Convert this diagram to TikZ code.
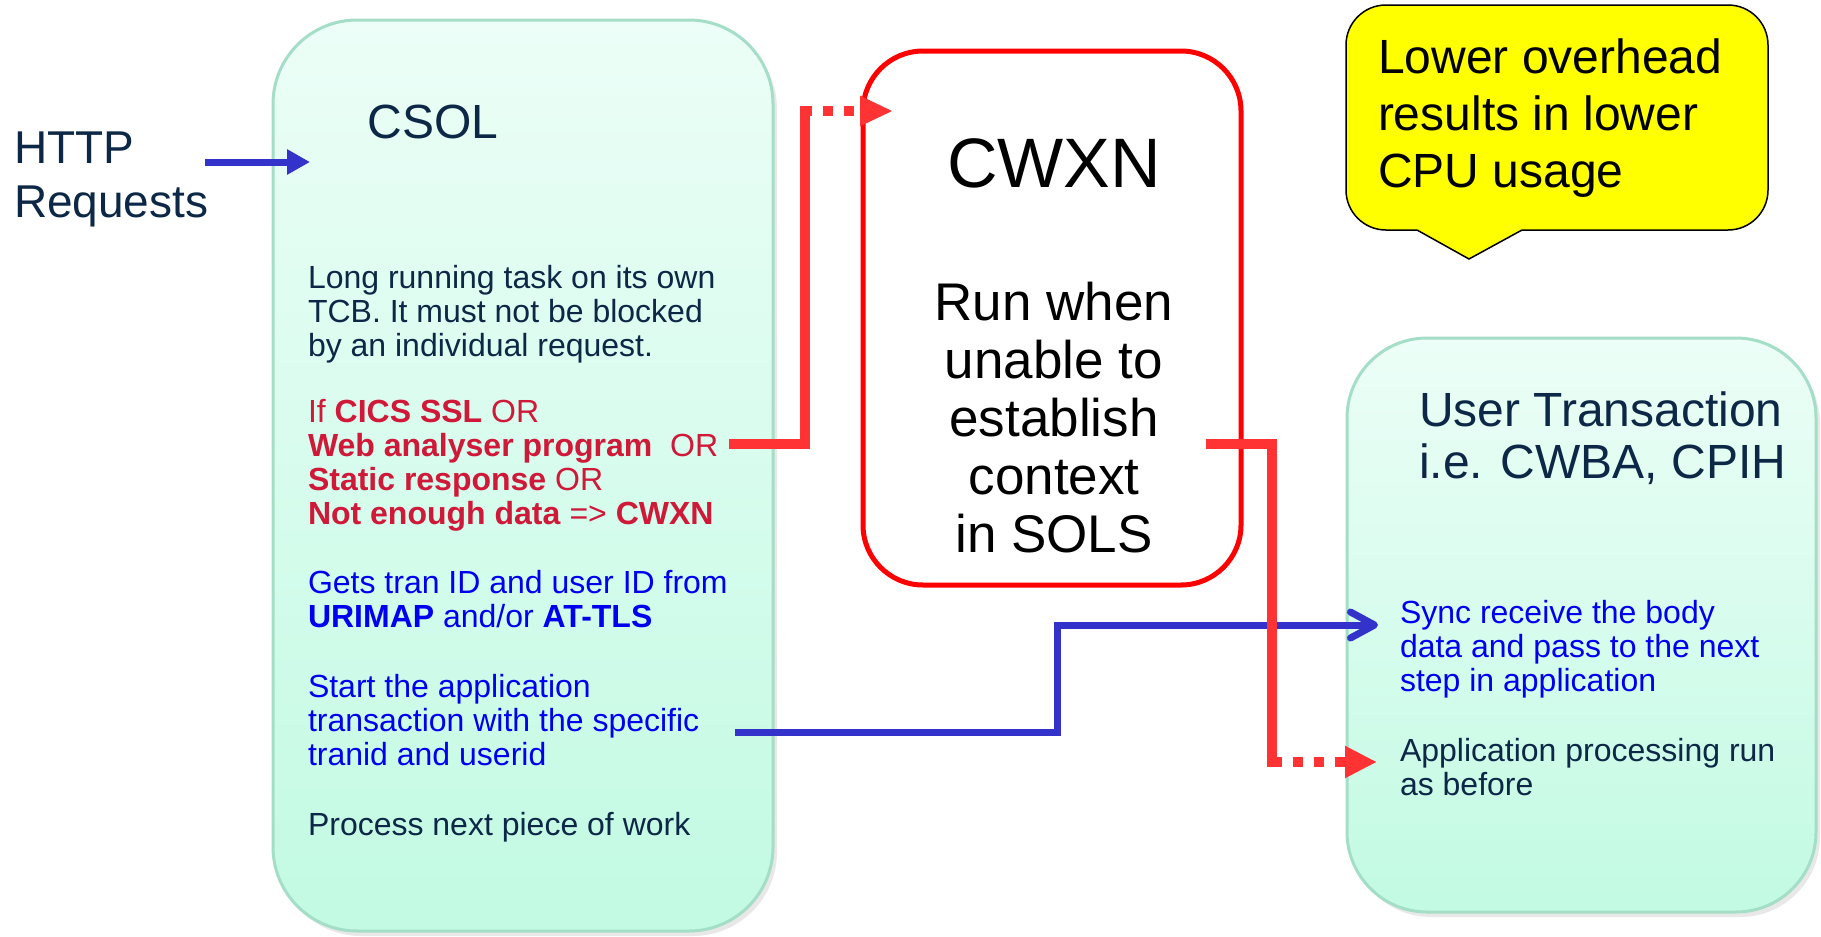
\documentclass[tikz,border=0pt]{standalone}
\usepackage{fontspec}
\setmainfont{Liberation Sans}
\usetikzlibrary{arrows.meta,shadows}
\definecolor{navy}{RGB}{12,40,70}
\definecolor{crim}{RGB}{208,24,56}
\definecolor{tblue}{RGB}{0,0,240}
\definecolor{abl}{RGB}{51,51,204}
\definecolor{redc}{RGB}{255,51,51}
\definecolor{pureyellow}{RGB}{255,255,0}
\definecolor{mintT}{RGB}{236,254,247}
\definecolor{mintB}{RGB}{194,250,227}
\definecolor{mintD}{RGB}{165,222,198}
\tikzset{
  greenbox/.style={draw=mintD, line width=1.5pt, top color=mintT, bottom color=mintB,
    rounded corners=42pt, inner sep=0pt, outer sep=0pt,
    drop shadow={opacity=0.18, shadow xshift=2pt, shadow yshift=-2.5pt}},
  txt/.style={inner sep=0pt, outer sep=0pt, align=left, anchor=base west},
  body/.style={txt, font=\fontsize{16pt}{17pt}\selectfont},
  redline/.style={draw=redc, line width=5pt, line join=miter},
  reddots/.style={redline, dash pattern=on 5.25pt off 5.25pt, dash phase=5.25pt},
  blueline/.style={draw=abl, line width=3.5pt, line join=miter},
}
\begin{document}
\begin{tikzpicture}[x=0.5pt,y=-0.5pt]
\useasboundingbox (0,0) rectangle (1821,937);
\fill[white] (0,0) rectangle (1821,937);

% boxes
\node[greenbox, minimum width=250pt, minimum height=455.5pt] (csol) at (523,475.5) {};
\node[greenbox, minimum width=234.5pt, minimum height=287pt, rounded corners=40pt] (ut) at (1581.5,625) {};
\node[draw=red, line width=2.5pt, fill=white, rounded corners=30pt, inner sep=0pt,
      minimum width=189pt, minimum height=267pt] (cwxn) at (1052,318) {};

% callout
\node[draw=black, line width=0.75pt, fill=pureyellow, rounded corners=20pt, inner sep=0pt,
      minimum width=211pt, minimum height=112.5pt] (call) at (1557,117.5) {};
\coordinate (pL) at (1417,230);
\coordinate (pT) at (1469,259);
\coordinate (pR) at (1522,230);
\fill[pureyellow] (1418,226) -- (pL) -- (pT) -- (pR) -- (1521,226) -- cycle;
\draw[black, line width=0.75pt, line join=miter] (pL) -- (pT) -- (pR);

% texts (anchor = baseline of the last line)
\node[txt, navy, font=\fontsize{23pt}{27pt}\selectfont] (http) at (14,217) {HTTP\\Requests};
\node[inner sep=0pt, anchor=base, navy, font=\fontsize{24pt}{28pt}\selectfont] (csolt) at (433,138) {CSOL};
\node[body, navy] (b1) at (308,356) {Long running task on its own\\TCB. It must not be blocked\\by an individual request.};
\node[body, crim] (b2) at (308,524) {If \textbf{CICS SSL} OR\\\textbf{Web analyser program}\ \ OR\\\textbf{Static response} OR\\\textbf{Not enough data} => \textbf{CWXN}};
\node[body, tblue] (b3) at (308,627) {Gets tran ID and user ID from\\\textbf{URIMAP} and/or \textbf{AT-TLS}};
\node[body, tblue] (b4) at (308,765) {Start the application\\transaction with the specific\\tranid and userid};
\node[body, navy] (b5) at (308,835) {Process next piece of work};

\node[inner sep=0pt, anchor=base, font=\fontsize{35pt}{40pt}\selectfont] (cwxnt) at (1054,187) {CWXN};
\node[inner sep=0pt, anchor=base, align=center, font=\fontsize{26.5pt}{29pt}\selectfont] (cwxnb) at (1054,552) {Run when\\unable to\\establish\\context\\in SOLS};

\node[txt, font=\fontsize{24pt}{28.5pt}\selectfont] (callt) at (1378,187) {Lower overhead\\results in lower\\CPU usage};

\node[txt, navy, font=\fontsize{24pt}{26pt}\selectfont] (utt) at (1419,478) {User Transaction\\i.e. CWBA, CPIH};
\node[body, tblue] (u1) at (1400,691) {Sync receive the body\\data and pass to the next\\step in application};
\node[body, navy] (u2) at (1400,795) {Application processing run\\as before};

% connectors
\coordinate (hA) at (205,162);
\coordinate (hB) at (310,162);
\draw[blueline, -{Triangle[length=11.5pt,width=12pt]}] (hA) -- (hB);

\coordinate (bA) at (735,732);
\coordinate (bB) at (1057,625);
\coordinate (bC) at (1378,625);
\draw[blueline, -{Straight Barb[length=12pt,width=13pt,round]}] (bA) -| (bB) -- (bC);

\coordinate (r1a) at (729,444);
\coordinate (r1b) at (805,111);
\coordinate (r1c) at (812,111);
\coordinate (r1d) at (893,111);
\draw[redline] (r1a) -| (r1b) -- (r1c);
\draw[reddots, -{Triangle[length=16.5pt,width=14pt]}] (r1c) -- (r1d);

\coordinate (r2a) at (1206,444);
\coordinate (r2b) at (1272,762);
\coordinate (r2c) at (1282,762);
\coordinate (r2d) at (1377,762);
\draw[redline] (r2a) -| (r2b) -- (r2c);
\draw[reddots, -{Triangle[length=16pt,width=15pt]}] (r2c) -- (r2d);
\end{tikzpicture}
\end{document}
